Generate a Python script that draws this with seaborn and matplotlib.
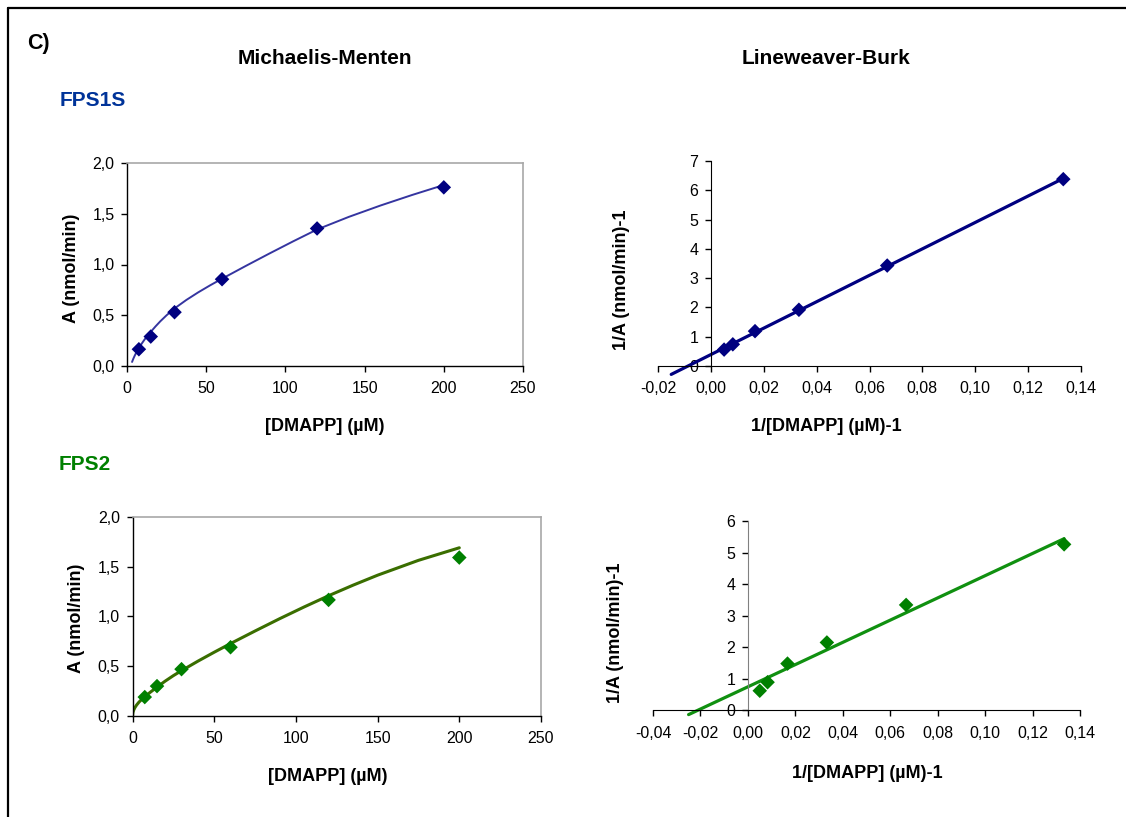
import numpy as np
import pandas as pd
import matplotlib
matplotlib.use("Agg")
import matplotlib.pyplot as plt
import seaborn as sns
from matplotlib.lines import Line2D

# substrate concentrations and their reciprocals
dmapp = [7.5, 15, 30, 60, 120, 200]
inv_dmapp = [0.005, 0.0083, 0.0167, 0.0333, 0.0667, 0.1333]

# measured activities (nmol/min)
fps1s_rate = [0.165, 0.29, 0.53, 0.855, 1.355, 1.76]
fps2_rate = [0.19, 0.30, 0.47, 0.69, 1.165, 1.59]

# reciprocal activities
fps1s_inv_rate = [0.56, 0.74, 1.19, 1.92, 3.43, 6.38]
fps2_inv_rate = [0.62, 0.89, 1.48, 2.15, 3.34, 5.26]

# fitted Michaelis-Menten curves
fps1s_curve_x = [3.2, 4, 5, 6, 7.5, 9, 11, 13, 15, 18, 21, 25, 30, 37.5, 45, 52.5, 60,
                 75, 90, 105, 120, 140, 160, 180, 200]
fps1s_curve_y = [0.04, 0.072, 0.106, 0.136, 0.177, 0.214, 0.259, 0.299, 0.336, 0.390,
                 0.440, 0.500, 0.567, 0.651, 0.726, 0.795, 0.860, 0.986, 1.109, 1.229,
                 1.345, 1.469, 1.581, 1.685, 1.783]
fps2_curve_x = [0, 0.25, 0.75, 1.5, 2.5, 4, 6, 8, 11, 15, 20, 25, 30, 40, 50, 60, 75,
                90, 105, 120, 135, 150, 175, 200]
fps2_curve_y = [0, 0.035, 0.06, 0.085, 0.11, 0.14, 0.172, 0.20, 0.24, 0.29, 0.35, 0.405,
                0.455, 0.55, 0.64, 0.727, 0.853, 0.976, 1.094, 1.207, 1.313, 1.413,
                1.562, 1.688]

# where the Lineweaver-Burk trendlines start (backward extension)
fps1s_lb_start = -0.015
fps2_lb_start = -0.025

# ticks
mm_xticks = [0, 50, 100, 150, 200, 250]
mm_yticks = [0.0, 0.5, 1.0, 1.5, 2.0]
mm_ylabels = ['0,0', '0,5', '1,0', '1,5', '2,0']
lb1_xticks = [-0.02, 0.0, 0.02, 0.04, 0.06, 0.08, 0.10, 0.12, 0.14]
lb1_xlabels = ['-0,02', '0,00', '0,02', '0,04', '0,06', '0,08', '0,10', '0,12', '0,14']
lb1_yticks = [0, 1, 2, 3, 4, 5, 6, 7]
lb2_xticks = [-0.04, -0.02, 0.0, 0.02, 0.04, 0.06, 0.08, 0.10, 0.12, 0.14]
lb2_xlabels = ['-0,04', '-0,02', '0,00', '0,02', '0,04', '0,06', '0,08', '0,10', '0,12', '0,14']
lb2_yticks = [0, 1, 2, 3, 4, 5, 6]

blue_pts = '#000080'
blue_curve = '#3535a0'
blue_title = '#003399'
green_pts = '#008000'
green_curve = '#3a6e00'
green_line = '#109010'

sns.set_style('ticks')
plt.rcParams['font.family'] = ['Liberation Sans', 'DejaVu Sans']
plt.rcParams['text.color'] = 'black'
plt.rcParams['axes.labelcolor'] = 'black'
plt.rcParams['xtick.color'] = 'black'
plt.rcParams['ytick.color'] = 'black'

W, H = 1126, 817
fig = plt.figure(figsize=(W / 100, H / 100), dpi=100)


def box(l, r, t, b):
    return [l / W, 1 - b / H, (r - l) / W, (b - t) / H]


TICK = 11.5
LABEL = 13


def style_mm(ax, xlab_pos, ylab_pos):
    ax.set_xlim(0, 250)
    ax.set_ylim(0, 2)
    ax.set_xticks(mm_xticks)
    ax.set_xticklabels([str(t) for t in mm_xticks])
    ax.set_yticks(mm_yticks)
    ax.set_yticklabels(mm_ylabels)
    for s in ['top', 'right']:
        ax.spines[s].set_color('#a8a8a8')
        ax.spines[s].set_linewidth(1.2)
    for s in ['left', 'bottom']:
        ax.spines[s].set_color('black')
        ax.spines[s].set_linewidth(1.0)
    ax.tick_params(axis='x', direction='out', length=4, width=1, pad=7, labelsize=TICK)
    ax.tick_params(axis='y', direction='out', length=4, width=1, pad=5, labelsize=TICK)
    ax.set_xlabel('[DMAPP] (µM)', fontsize=LABEL, fontweight='bold', va='center')
    ax.set_ylabel('A (nmol/min)', fontsize=LABEL, fontweight='bold', va='center')
    ax.xaxis.set_label_coords(*xlab_pos)
    ax.yaxis.set_label_coords(*ylab_pos)


def style_lb(ax, xlim, ylim, xticks, xlabels, yticks, xlab_pos, ylab_pos, ycolor='black'):
    ax.set_xlim(*xlim)
    ax.set_ylim(*ylim)
    ax.set_xticks(xticks)
    ax.set_xticklabels(xlabels)
    ax.set_yticks(yticks)
    ax.set_yticklabels([str(t) for t in yticks])
    ax.spines['top'].set_visible(False)
    ax.spines['right'].set_visible(False)
    ax.spines['left'].set_position(('data', 0))
    ax.spines['bottom'].set_position(('data', 0))
    ax.spines['left'].set_color(ycolor)
    ax.spines['bottom'].set_color('black')
    ax.tick_params(axis='x', direction='out', length=4, width=1, pad=7, labelsize=TICK)
    ax.tick_params(axis='y', direction='out', length=4, width=1, pad=5, labelsize=TICK)
    ax.set_xlabel('1/[DMAPP] (µM)-1', fontsize=LABEL, fontweight='bold', va='center')
    ax.set_ylabel('1/A (nmol/min)-1', fontsize=LABEL, fontweight='bold', va='center')
    ax.xaxis.set_label_coords(*xlab_pos)
    ax.yaxis.set_label_coords(*ylab_pos)


# --- FPS1S Michaelis-Menten
ax1 = fig.add_axes(box(127, 523, 163, 366))
sns.lineplot(x=fps1s_curve_x, y=fps1s_curve_y, ax=ax1, color=blue_curve, lw=1.4,
             sort=False, estimator=None)
sns.scatterplot(x=dmapp, y=fps1s_rate, ax=ax1, marker='D', s=55, color=blue_pts,
                edgecolor='none', zorder=3)
style_mm(ax1, (0.5, -0.296), (-0.141, 0.48))

# --- FPS1S Lineweaver-Burk
ax2 = fig.add_axes(box(658, 1081, 161, 366))
k1, b1 = np.polyfit(inv_dmapp, fps1s_inv_rate, 1)
fit1_x = np.array([fps1s_lb_start, max(inv_dmapp)])
sns.lineplot(x=fit1_x, y=k1 * fit1_x + b1, ax=ax2, color=blue_pts, lw=2.3, clip_on=False)
sns.scatterplot(x=inv_dmapp, y=fps1s_inv_rate, ax=ax2, marker='D', s=55, color=blue_pts,
                edgecolor='none', zorder=3)
style_lb(ax2, (-0.02, 0.14), (0, 7), lb1_xticks, lb1_xlabels, lb1_yticks,
         (0.397, -0.293), (-0.087, 0.42))

# --- FPS2 Michaelis-Menten
ax3 = fig.add_axes(box(132.5, 541, 516.7, 716))
sns.lineplot(x=fps2_curve_x, y=fps2_curve_y, ax=ax3, color=green_curve, lw=2.2,
             sort=False, estimator=None)
sns.scatterplot(x=dmapp, y=fps2_rate, ax=ax3, marker='D', s=55, color=green_pts,
                edgecolor='none', zorder=3)
style_mm(ax3, (0.478, -0.306), (-0.136, 0.49))

# --- FPS2 Lineweaver-Burk
ax4 = fig.add_axes(box(653, 1080, 521, 710.3))
k2, b2 = np.polyfit(inv_dmapp, fps2_inv_rate, 1)
fit2_x = np.array([fps2_lb_start, max(inv_dmapp)])
sns.lineplot(x=fit2_x, y=k2 * fit2_x + b2, ax=ax4, color=green_line, lw=2.3, clip_on=False)
sns.scatterplot(x=inv_dmapp, y=fps2_inv_rate, ax=ax4, marker='D', s=55, color=green_pts,
                edgecolor='none', zorder=3)
style_lb(ax4, (-0.04, 0.14), (0, 6), lb2_xticks, lb2_xlabels, lb2_yticks,
         (0.501, -0.336), (-0.087, 0.41), ycolor='#808080')

# --- texts
fig.text(27 / W, 1 - 44 / H, 'C)', fontsize=15.5, fontweight='bold', va='center')
fig.text(325 / W, 1 - 58 / H, 'Michaelis-Menten', fontsize=15, fontweight='bold',
         ha='center', va='center')
fig.text(826 / W, 1 - 58 / H, 'Lineweaver-Burk', fontsize=15, fontweight='bold',
         ha='center', va='center')
fig.text(60 / W, 1 - 101 / H, 'FPS1S', fontsize=15, fontweight='bold', color=blue_title,
         va='center')
fig.text(59 / W, 1 - 464 / H, 'FPS2', fontsize=15, fontweight='bold', color=green_pts,
         va='center')

# outer frame (top and left edges)
fig.add_artist(Line2D([8 / W, 1.0], [1 - 8 / H, 1 - 8 / H], color='black', lw=1.6))
fig.add_artist(Line2D([8 / W, 8 / W], [0.0, 1 - 8 / H], color='black', lw=1.6))

fig.savefig('out.png', dpi=100)
